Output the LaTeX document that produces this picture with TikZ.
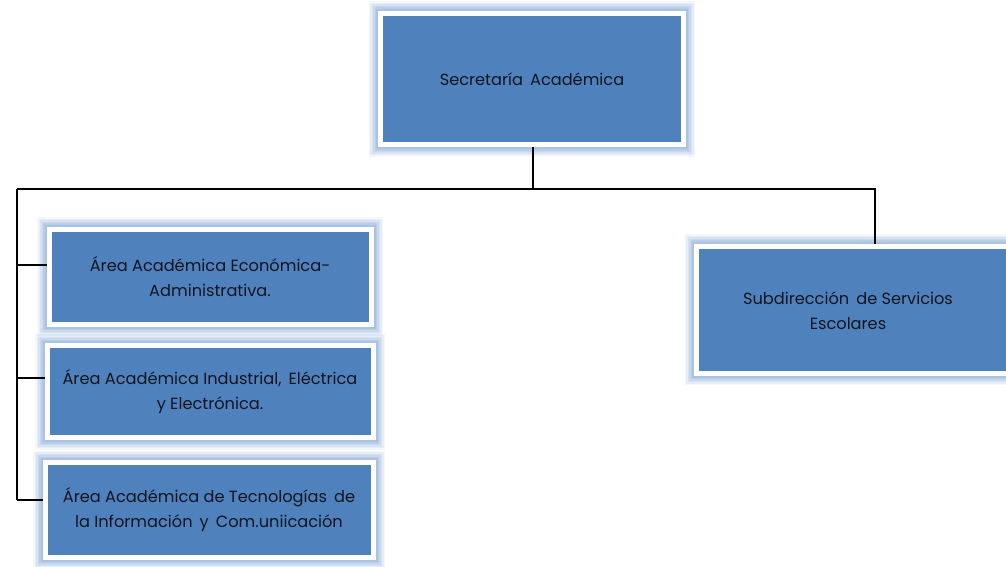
\documentclass[tikz,border=0pt]{standalone}
\usepackage{fontspec}
\setmainfont{Poppins}
\definecolor{boxblue}{HTML}{4F81BD}
\definecolor{glowblue}{HTML}{6F98CE}
\definecolor{txt}{HTML}{12151F}
\begin{document}
\begin{tikzpicture}[x=1pt,y=-1pt,
  orgbox/.style={rectangle, fill=boxblue, draw=white, line width=5pt, inner sep=0pt,
    text=txt, align=center, font=\fontsize{16.2}{25}\selectfont,
    preaction={draw=glowblue, line width=24pt, draw opacity=0.08},
    preaction={draw=glowblue, line width=21pt, draw opacity=0.1},
    preaction={draw=glowblue, line width=18pt, draw opacity=0.12},
    preaction={draw=glowblue, line width=15pt, draw opacity=0.14},
    preaction={draw=glowblue, line width=12pt, draw opacity=0.17},
    preaction={draw=glowblue, line width=9pt, draw opacity=0.2}},
  conn/.style={draw=black, line width=1.3pt}]
\useasboundingbox (0,0) rectangle (1006,567);
\node[orgbox, minimum width=302.5pt, minimum height=131pt] (top) at (532,79) {Secretaría\, Académica};
\node[orgbox, minimum width=322pt, minimum height=95pt] (b1) at (210,276.5) {Área Académica Económica-\\Administrativa.};
\node[orgbox, minimum width=326pt, minimum height=92pt] (b2) at (210,391.5) {Área Académica Industrial,\, Eléctrica\\y Electrónica.};
\node[orgbox, minimum width=328pt, minimum height=94.5pt] (b3) at (209,510) {Área Académica de Tecnologías\, de\\la Información\, y\, Com.uniicación};
\node[orgbox, minimum width=315pt, minimum height=127pt] (sub) at (854,309.5) {};
\node[text=txt, align=center, font=\fontsize{16.2}{25}\selectfont] (subt) at (848,311) {Subdirección\, de Servicios\\Escolares};
\coordinate (j) at (533,189);
\coordinate (l) at (17,189);
\coordinate (r) at (875,189);
\coordinate (lb) at (17,500);
\draw[conn] (top.south -| j) -- (j);
\draw[conn] (l) -- (r) -- (r |- sub.north);
\draw[conn] (l) -- (lb);
\draw[conn] (17,265) -- (b1.west |- 0,265);
\draw[conn] (17,378) -- (b2.west |- 0,378);
\draw[conn] (lb) -- (b3.west |- lb);
\end{tikzpicture}
\end{document}
